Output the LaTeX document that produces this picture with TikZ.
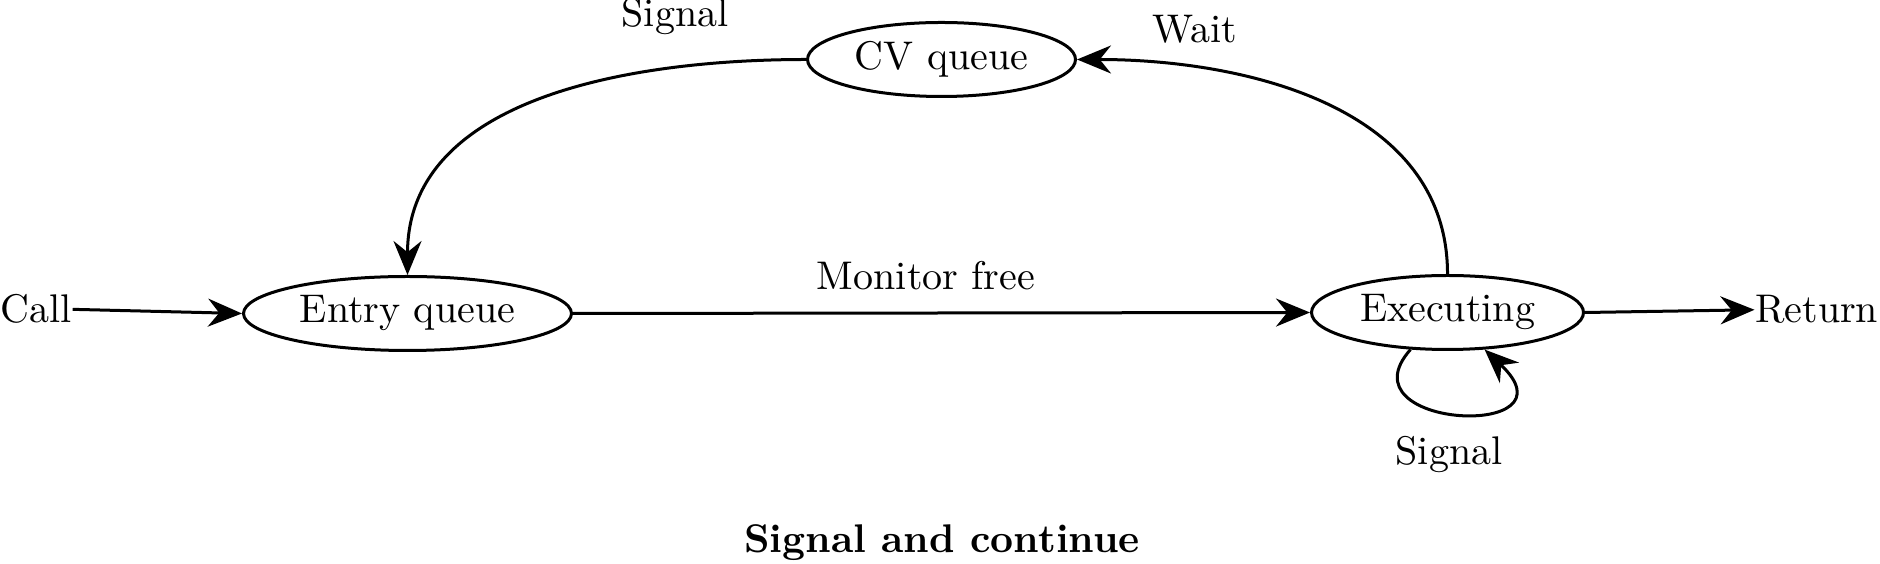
\documentclass[tikz,border=0pt]{standalone}
\usetikzlibrary{shapes.geometric,arrows.meta}
\begin{document}
\begin{tikzpicture}[x=0.25pt,y=-0.25pt,
  state/.style={ellipse,draw,line width=0.75pt,inner sep=0pt,minimum height=18.5pt},
  lbl/.style={inner sep=0pt,anchor=base},
  conn/.style={line width=0.75pt,-{Stealth[length=8.5pt,width=7pt,inset=2.8pt]}}]
\useasboundingbox (0,0) rectangle (1880,564);
\node[state,minimum width=82pt] (entry) at (407.5,313.5) {Entry queue};
\node[state,minimum width=68pt] (ex) at (1447.5,312.5) {Executing};
\node[state,minimum width=67pt] (cv) at (941.5,59.5) {CV queue};
\node[lbl,anchor=base west] (call) at (0,323) {Call};
\node[lbl,anchor=base east] (ret) at (1879,323) {Return};
\node[lbl] (mf) at (926,290) {Monitor free};
\node[lbl] (sigtop) at (675,27) {Signal};
\node[lbl] (wait) at (1195,43) {Wait};
\node[lbl] (sigbot) at (1449,465) {Signal};
\node[lbl] (title) at (942,553) {\bfseries Signal and continue};
\draw[conn] (call.east) -- (entry.west);
\draw[conn] (entry.east) -- (ex.west);
\draw[conn] (ex.east) -- (ret.west);
\draw[conn] (cv.west) to[out=180,in=90] (entry.north);
\draw[conn] (ex.north) to[out=90,in=0] (cv.east);
\draw[conn] (ex.-135) .. controls +(-71,80) and +(97,91) .. (ex.-45);
\end{tikzpicture}
\end{document}
